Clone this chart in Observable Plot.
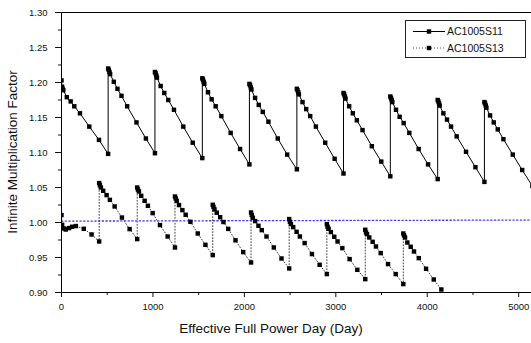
<!DOCTYPE html>
<html><head><meta charset="utf-8">
<script src="https://cdn.jsdelivr.net/npm/d3@7"></script>
<script src="https://cdn.jsdelivr.net/npm/@observablehq/plot@0.6"></script>
<style>
html,body{margin:0;padding:0;background:#fff;}
#wrap{position:relative;width:531px;height:343px;overflow:hidden;font-family:"Liberation Sans",Arial,sans-serif;color:#111;}
.ttl{position:absolute;white-space:nowrap;font-size:13.5px;color:#111;}
</style></head><body><div id="wrap"></div>
<script>
// ---- data ----
const seriesNames = ["AC1005S11", "AC1005S13"];
const xTitle = "Effective Full Power Day (Day)";
const yTitle = "Infinite Multiplication Factor";
const xTicks = [0, 1000, 2000, 3000, 4000, 5000];
const xMinor = [500, 1500, 2500, 3500, 4500];
const yTicks = [0.90, 0.95, 1.00, 1.05, 1.10, 1.15, 1.20, 1.25, 1.30];
const yMinor = [0.925, 0.975, 1.025, 1.075, 1.125, 1.175, 1.225, 1.275];

const s11Days = [
  0, 6, 13, 20, 58, 100, 140, 202, 304, 410, 510,
  510, 517, 525, 532, 572, 612, 656, 718, 820, 923, 1022,
  1022, 1029, 1037, 1044, 1084, 1124, 1168, 1230, 1332, 1435, 1540,
  1540, 1547, 1555, 1562, 1602, 1642, 1686, 1748, 1850, 1953, 2055,
  2055, 2062, 2070, 2077, 2117, 2157, 2201, 2263, 2365, 2468, 2574,
  2574, 2581, 2589, 2596, 2636, 2676, 2720, 2782, 2884, 2987, 3084,
  3084, 3091, 3099, 3106, 3146, 3186, 3230, 3292, 3394, 3497, 3596,
  3596, 3603, 3611, 3618, 3658, 3698, 3742, 3804, 3906, 4009, 4114,
  4114, 4121, 4129, 4136, 4176, 4216, 4260, 4322, 4424, 4527, 4625,
  4625, 4632, 4640, 4647, 4687, 4727, 4771, 4833, 4935, 5038, 5150
];
const s11K = [
  1.203, 1.194, 1.191, 1.189, 1.179, 1.173, 1.166, 1.156, 1.137, 1.118, 1.098,
  1.220, 1.218, 1.215, 1.212, 1.201, 1.191, 1.181, 1.166, 1.143, 1.120, 1.099,
  1.215, 1.213, 1.210, 1.207, 1.195, 1.185, 1.175, 1.161, 1.137, 1.114, 1.092,
  1.206, 1.204, 1.201, 1.198, 1.186, 1.176, 1.166, 1.152, 1.128, 1.105, 1.083,
  1.198, 1.196, 1.193, 1.190, 1.178, 1.168, 1.158, 1.144, 1.120, 1.097, 1.076,
  1.191, 1.189, 1.186, 1.183, 1.172, 1.162, 1.152, 1.137, 1.114, 1.091, 1.070,
  1.185, 1.183, 1.180, 1.177, 1.166, 1.156, 1.146, 1.132, 1.109, 1.087, 1.066,
  1.180, 1.178, 1.175, 1.172, 1.161, 1.151, 1.142, 1.128, 1.105, 1.083, 1.062,
  1.175, 1.173, 1.170, 1.167, 1.156, 1.147, 1.137, 1.123, 1.101, 1.079, 1.058,
  1.172, 1.170, 1.167, 1.164, 1.153, 1.143, 1.133, 1.119, 1.097, 1.075, 1.052
];

const s13Days = [
  0, 7, 29, 47, 83, 116, 157, 244, 329, 412,
  412, 420, 431, 456, 493, 529, 581, 661, 745, 828,
  828, 836, 847, 872, 909, 945, 997, 1077, 1161, 1241,
  1241, 1249, 1260, 1285, 1322, 1358, 1410, 1490, 1574, 1654,
  1654, 1662, 1673, 1698, 1735, 1771, 1823, 1903, 1987, 2073,
  2073, 2081, 2092, 2117, 2154, 2190, 2242, 2322, 2406, 2490,
  2490, 2498, 2509, 2534, 2571, 2607, 2659, 2739, 2823, 2902,
  2902, 2910, 2921, 2946, 2983, 3019, 3071, 3151, 3235, 3322,
  3322, 3330, 3341, 3366, 3403, 3439, 3491, 3571, 3655, 3738,
  3738, 3746, 3757, 3782, 3819, 3855, 3907, 3987, 4071, 4154
];
const s13K = [
  1.0106, 0.9967, 0.9914, 0.9900, 0.9920, 0.9939, 0.9949, 0.9910, 0.9829, 0.9729,
  1.0563, 1.0534, 1.0500, 1.0453, 1.0391, 1.0324, 1.0229, 1.0071, 0.9906, 0.9763,
  1.0500, 1.0471, 1.0443, 1.0381, 1.0310, 1.0239, 1.0134, 0.9963, 0.9800, 0.9643,
  1.0371, 1.0343, 1.0310, 1.0249, 1.0177, 1.0110, 1.0010, 0.9843, 0.9681, 0.9534,
  1.0253, 1.0223, 1.0188, 1.0140, 1.0076, 1.0007, 0.9909, 0.9746, 0.9577, 0.9429,
  1.0143, 1.0106, 1.0067, 1.0020, 0.9953, 0.9891, 0.9800, 0.9643, 0.9486, 0.9343,
  1.0049, 1.0010, 0.9977, 0.9934, 0.9867, 0.9800, 0.9706, 0.9549, 0.9396, 0.9263,
  0.9977, 0.9939, 0.9910, 0.9863, 0.9796, 0.9729, 0.9634, 0.9477, 0.9324, 0.9191,
  0.9896, 0.9857, 0.9834, 0.9786, 0.9724, 0.9657, 0.9563, 0.9406, 0.9263, 0.9120,
  0.9843, 0.9815, 0.9786, 0.9714, 0.9653, 0.9586, 0.9491, 0.9339, 0.9186, 0.9043
];

const refDays = [0, 5140];
const refK = [1.002, 1.0035];

// ---- build tables ----
const s11 = s11Days.map((d, i) => ({d, k: s11K[i]}));
const s13 = s13Days.map((d, i) => ({d, k: s13K[i]}));
const ref = refDays.map((d, i) => ({d, k: refK[i]}));

const chart = Plot.plot({
  width: 531,
  height: 343,
  marginLeft: 61,
  marginRight: 0,
  marginTop: 12,
  marginBottom: 51,
  style: {fontFamily: '"Liberation Sans", Arial, sans-serif', fontSize: "9.5px", color: "#111", background: "white"},
  x: {domain: [0, 5140]},
  y: {domain: [0.9, 1.3]},
  marks: [
    Plot.line(ref, {x: "d", y: "k", stroke: "#3b3bf0", strokeWidth: 1.3, strokeDasharray: "1.3,2.4", clip: true}),
    Plot.line(s13, {x: "d", y: "k", stroke: "#444", strokeWidth: 1, strokeDasharray: "1,2", clip: true}),
    Plot.line(s11, {x: "d", y: "k", stroke: "#000", strokeWidth: 1, clip: true}),
    Plot.dot(s13, {x: "d", y: "k", symbol: "square", r: 2.5, fill: "#000", stroke: "none", clip: true}),
    Plot.dot(s11, {x: "d", y: "k", symbol: "square", r: 2.5, fill: "#000", stroke: "none", clip: true}),
    Plot.ruleY([1.3], {stroke: "#000"}),
    Plot.ruleY([0.9], {stroke: "#000"}),
    Plot.ruleX([0], {stroke: "#000"}),
    Plot.axisX({ticks: xTicks, tickSize: 5, tickPadding: 6, tickFormat: d => String(d), label: null}),
    Plot.axisX({ticks: xMinor, tickSize: 3, tickFormat: () => "", label: null}),
    Plot.axisY({ticks: yTicks, tickSize: 6, tickPadding: 8, tickFormat: d3.format(".2f"), label: null}),
    Plot.axisY({ticks: yMinor, tickSize: 3, tickFormat: () => "", label: null})
  ]
});

const wrap = document.getElementById("wrap");
chart.style.position = "absolute";
chart.style.left = "0px";
chart.style.top = "0px";
wrap.appendChild(chart);

// axis titles
const xt = document.createElement("div");
xt.className = "ttl";
xt.textContent = xTitle;
xt.style.left = "271px";
xt.style.top = "321px";
xt.style.transform = "translateX(-50%)";
wrap.appendChild(xt);

const yt = document.createElement("div");
yt.className = "ttl";
yt.textContent = yTitle;
yt.style.left = "12px";
yt.style.top = "152px";
yt.style.transform = "translate(-50%,-50%) rotate(-90deg)";
wrap.appendChild(yt);

// legend
const ns = "http://www.w3.org/2000/svg";
const lg = document.createElementNS(ns, "svg");
lg.setAttribute("width", "123");
lg.setAttribute("height", "40");
lg.style.position = "absolute";
lg.style.left = "404px";
lg.style.top = "19px";
const box = document.createElementNS(ns, "rect");
box.setAttribute("x", "1.5"); box.setAttribute("y", "1.5");
box.setAttribute("width", "120"); box.setAttribute("height", "37");
box.setAttribute("fill", "white"); box.setAttribute("stroke", "#222"); box.setAttribute("stroke-width", "1");
lg.appendChild(box);
seriesNames.forEach((name, i) => {
  const yy = 12.5 + i * 16.5;
  const ln = document.createElementNS(ns, "line");
  ln.setAttribute("x1", "9"); ln.setAttribute("x2", "41");
  ln.setAttribute("y1", yy); ln.setAttribute("y2", yy);
  ln.setAttribute("stroke", i === 0 ? "#000" : "#444");
  if (i === 1) ln.setAttribute("stroke-dasharray", "1,2");
  lg.appendChild(ln);
  const sq = document.createElementNS(ns, "rect");
  sq.setAttribute("x", 25 - 2.2); sq.setAttribute("y", yy - 2.2);
  sq.setAttribute("width", "4.4"); sq.setAttribute("height", "4.4");
  sq.setAttribute("fill", "#000");
  lg.appendChild(sq);
  const tx = document.createElementNS(ns, "text");
  tx.setAttribute("x", "43"); tx.setAttribute("y", yy + 3.7);
  tx.setAttribute("font-size", "10.5");
  tx.setAttribute("font-family", '"Liberation Sans", Arial, sans-serif');
  tx.setAttribute("fill", "#111");
  tx.textContent = name;
  lg.appendChild(tx);
});
wrap.appendChild(lg);
</script>
</body></html>
